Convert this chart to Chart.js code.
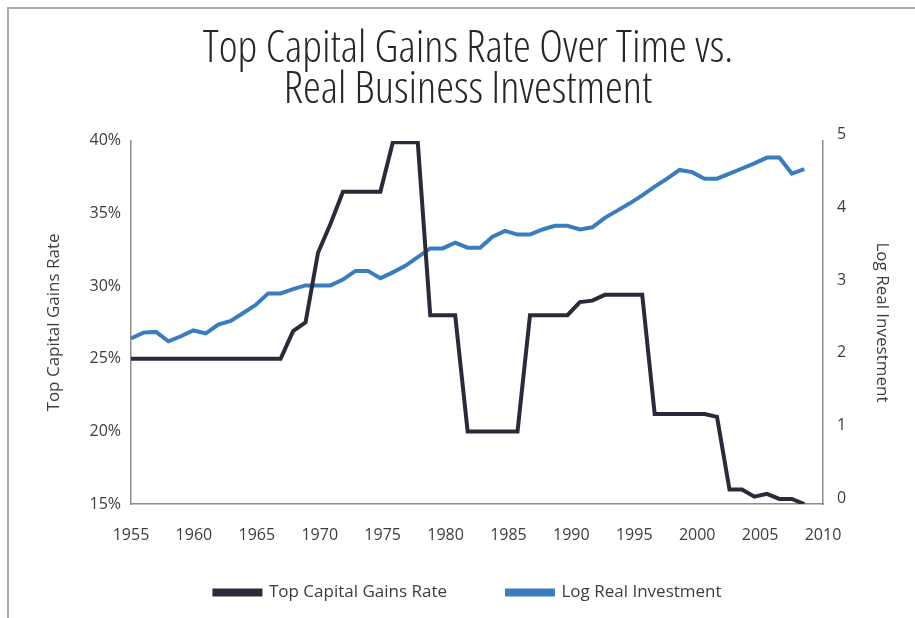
<!DOCTYPE html>
<html><head><meta charset="utf-8">
<script src="https://cdn.jsdelivr.net/npm/chart.js@4.4.1/dist/chart.umd.min.js"></script>
<style>
html,body{margin:0;padding:0;background:#fff;}
#wrap{position:relative;width:915px;height:618px;overflow:hidden;}
#frame{position:absolute;left:7px;top:7px;width:920px;height:620px;border-left:2px solid #ababab;border-top:2px solid #ababab;}
canvas{position:absolute;left:0;top:0;}
</style></head><body>
<div id="wrap"><div id="frame"></div><canvas id="c" width="915" height="618"></canvas></div>
<script>
const years = [1955,1956,1957,1958,1959,1960,1961,1962,1963,1964,1965,1966,1967,1968,1969,1970,1971,1972,1973,1974,1975,1976,1977,1978,1979,1980,1981,1982,1983,1984,1985,1986,1987,1988,1989,1990,1991,1992,1993,1994,1995,1996,1997,1998,1999,2000,2001,2002,2003,2004,2005,2006,2007,2008,2009];
const capitalGainsRate = [25,25,25,25,25,25,25,25,25,25,25,25,25,26.9,27.5,32.3,34.3,36.5,36.5,36.5,36.5,39.9,39.9,39.9,28,28,28,20,20,20,20,20,28,28,28,28,28.9,29.0,29.4,29.4,29.4,29.4,21.2,21.2,21.2,21.2,21.2,21.0,16.0,16.0,15.5,15.7,15.35,15.35,15.0];
const logRealInvestment = [2.28,2.36,2.37,2.24,2.31,2.39,2.35,2.47,2.52,2.63,2.74,2.90,2.90,2.96,3.01,3.01,3.01,3.09,3.21,3.21,3.11,3.19,3.28,3.40,3.52,3.52,3.60,3.53,3.53,3.68,3.76,3.71,3.71,3.78,3.83,3.83,3.78,3.81,3.94,4.04,4.14,4.25,4.37,4.48,4.60,4.57,4.48,4.48,4.55,4.62,4.69,4.77,4.77,4.55,4.61];
const xTickLabels = [1955,1960,1965,1970,1975,1980,1985,1990,1995,2000,2005,2010];
const leftTicks = [15,20,25,30,35,40];
const rightTicks = [0,1,2,3,4,5];
const titleLines = ['Top Capital Gains Rate Over Time vs.','Real Business Investment'];

const FAM = "'Open Sans', 'DejaVu Sans', sans-serif";
const tickFont = {family: FAM, size: 16};
const TXT = '#3d3d3d';
const AXIS = '#8c8c8c';

const labelRoom = {
  id: 'labelRoom',
  afterLayout(chart) { const s = chart.scales.x; s.bottom = s.top + 50; }
};

new Chart(document.getElementById('c'), {
  type: 'line',
  data: {
    datasets: [
      {label: 'Top Capital Gains Rate', data: years.map((y,i)=>({x:y, y:capitalGainsRate[i]})),
       borderColor: '#2b2a3b', backgroundColor: '#2b2a3b', borderWidth: 4, pointRadius: 0, tension: 0,
       xAxisID: 'xd', yAxisID: 'y'},
      {label: 'Log Real Investment', data: years.map((y,i)=>({x:y, y:logRealInvestment[i]})),
       borderColor: '#3a7dbf', backgroundColor: '#3a7dbf', borderWidth: 4, pointRadius: 0, tension: 0,
       xAxisID: 'xd', yAxisID: 'y2'}
    ]
  },
  plugins: [labelRoom],
  options: {
    responsive: false, animation: false,
    layout: {padding: {left: 44, right: 23, top: 0, bottom: 7}},
    plugins: {
      title: {display: true, text: titleLines, color: '#262626',
        font: {family: FAM, size: 45, weight: '300 condensed', lineHeight: 0.91},
        padding: {top: 29, bottom: 30}},
      legend: {position: 'bottom',
        labels: {boxWidth: 46, boxHeight: 4, padding: 60, color: TXT,
          font: {family: FAM, size: 17}}},
      tooltip: {enabled: false}
    },
    scales: {
      x: {type: 'linear', position: 'bottom', min: 1955, max: 2010,
        afterBuildTicks: s => { s.ticks = xTickLabels.map(v => ({value: v})); },
        afterFit: s => { s.height = 20; },
        grid: {display: false, drawTicks: false},
        border: {display: true, color: AXIS, width: 1.5},
        ticks: {color: TXT, font: tickFont, padding: 22, maxRotation: 0, autoSkip: false, callback: v => String(v)}},
      xd: {type: 'linear', display: false, position: 'bottom', min: 1955, max: 2010.5},
      y: {type: 'linear', position: 'left', min: 15, max: 40,
        afterBuildTicks: s => { s.ticks = leftTicks.map(v => ({value: v})); },
        afterFit: s => { s.width = 87; },
        grid: {display: false, drawTicks: false},
        border: {display: true, color: AXIS, width: 1.5},
        ticks: {color: TXT, font: tickFont, padding: 10, callback: v => v + '%'},
        title: {display: true, text: 'Top Capital Gains Rate', color: TXT, padding: 0,
          font: {family: FAM, size: 17}}},
      y2: {type: 'linear', position: 'right', min: 0, max: 5,
        afterBuildTicks: s => { s.ticks = rightTicks.map(v => ({value: v})); },
        afterFit: s => { s.width = 69; },
        grid: {display: false, drawTicks: false},
        border: {display: true, color: AXIS, width: 1.5},
        ticks: {color: TXT, font: tickFont, padding: 14, labelOffset: -6, callback: v => String(v)},
        title: {display: true, text: 'Log Real Investment', color: TXT, padding: 0,
          font: {family: FAM, size: 17}}}
    }
  }
});
</script>
</body></html>
